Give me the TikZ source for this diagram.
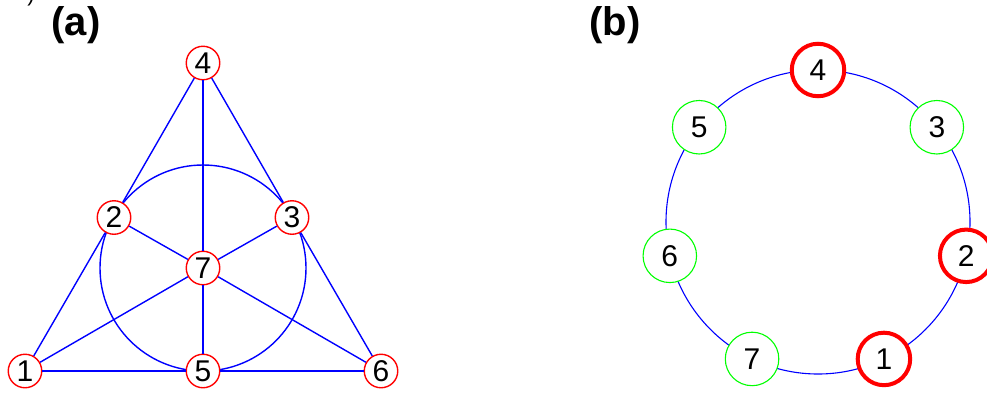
\documentclass[tikz,border=0pt]{standalone}
\usepackage{fontspec}
\setmainfont{Liberation Sans}
\usetikzlibrary{calc}
\begin{document}
\begin{tikzpicture}[x=1pt,y=-1pt,
  anode/.style={circle,draw=red,line width=1.4pt,fill=white,minimum size=33.5pt,inner sep=0pt,font=\fontsize{30}{30}\selectfont},
  gnode/.style={circle,draw=green,line width=1.1pt,fill=white,minimum size=53.5pt,inner sep=0pt,font=\fontsize{30}{30}\selectfont},
  rnode/.style={circle,draw=red,line width=4pt,fill=white,minimum size=52.5pt,inner sep=0pt,font=\fontsize{30}{30}\selectfont},
  edge/.style={draw=blue,line width=1.4pt},
  panel/.style={font=\fontsize{40}{40}\selectfont\bfseries}]
\useasboundingbox[fill=white] (0,0) rectangle (987,392);
% fragment at top-left
\node[font=\fontsize{22}{22}\selectfont] (frag) at (31,-4) {)};
% panel labels
\node[panel] (la) at (76,25) {(a)};
\node[panel] (lb) at (615,25) {(b)};
% ---- panel (a)
\coordinate (c7) at (203,268);
\draw[edge] (c7) circle (103);
\node[anode] (a4) at (203,63) {4};
\node[anode] (a2) at (114,217.5) {2};
\node[anode] (a3) at (292,217.5) {3};
\node[anode] (a7) at (203,268) {7};
\node[anode] (a1) at (25,371) {1};
\node[anode] (a5) at (203,371) {5};
\node[anode] (a6) at (381,371) {6};
\draw[edge] (a1) -- (a2);
\draw[edge] (a2) -- (a4);
\draw[edge] (a4) -- (a3);
\draw[edge] (a3) -- (a6);
\draw[edge] (a1) -- (a5);
\draw[edge] (a5) -- (a6);
\draw[edge] (a4) -- (a7);
\draw[edge] (a7) -- (a5);
\draw[edge] (a1) -- (a7);
\draw[edge] (a7) -- (a3);
\draw[edge] (a6) -- (a7);
\draw[edge] (a7) -- (a2);
% ---- panel (b)
\coordinate (cb) at (818,222);
\draw[draw=blue,line width=1.1pt] (cb) circle (152);
\node[rnode] (b4) at ($(cb)+(-90:152)$) {4};
\node[gnode] (b3) at ($(cb)+(-38.571:152)$) {3};
\node[rnode] (b2) at ($(cb)+(12.857:152)$) {2};
\node[rnode] (b1) at ($(cb)+(64.286:152)$) {1};
\node[gnode] (b7) at ($(cb)+(115.714:152)$) {7};
\node[gnode] (b6) at ($(cb)+(167.143:152)$) {6};
\node[gnode] (b5) at ($(cb)+(218.571:152)$) {5};
\end{tikzpicture}
\end{document}
